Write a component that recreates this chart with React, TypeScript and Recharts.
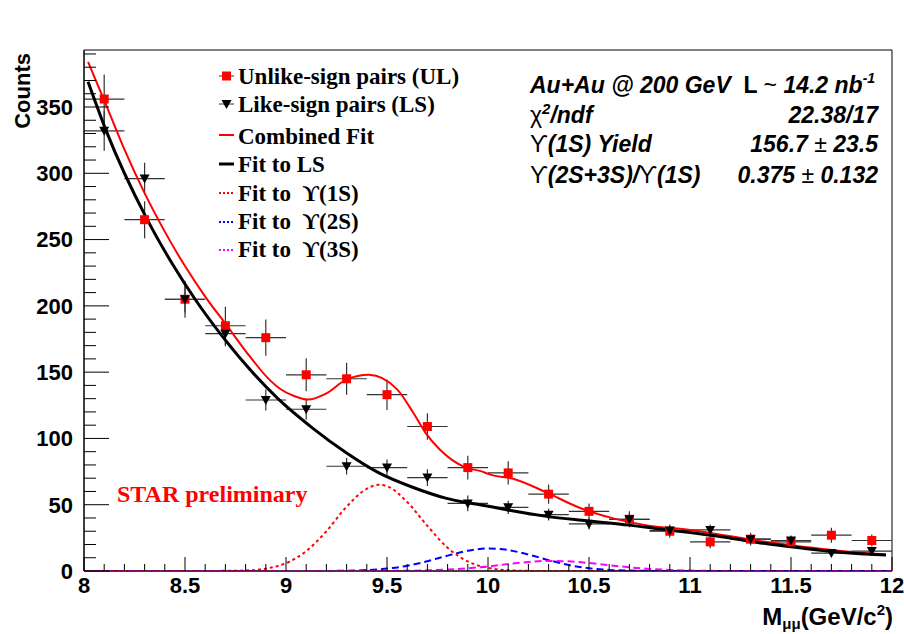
import React from "react";
import { ComposedChart, Line, Scatter, XAxis, YAxis, ErrorBar, ReferenceArea } from "recharts";

const sans = "'Liberation Sans', Arial, Helvetica, sans-serif";
const serif = "'Liberation Serif', 'Times New Roman', serif";

// dimuon invariant mass bins, 0.2 GeV/c^2 wide
const binCenters = [8.1, 8.3, 8.5, 8.7, 8.9, 9.1, 9.3, 9.5, 9.7, 9.9, 10.1, 10.3, 10.5, 10.7, 10.9, 11.1, 11.3, 11.5, 11.7, 11.9];
const binHalfWidth = 0.1;

const ulCounts = [356, 265, 205, 185, 176, 148, 145, 133, 109, 78, 74, 58, 45, 39, 30, 22, 24, 22, 27, 23];
const ulErrors = [18.5, 14, 14, 14.3, 13.7, 12.5, 12, 11.5, 10, 8.9, 8.8, 7.2, 6, 6, 5, 4.8, 4.8, 4.7, 5.6, 4.6];
const lsCounts = [332, 296, 205, 179, 129, 122, 79, 78, 70.5, 51, 48, 42.5, 35.5, 39, 30.5, 31, 24, 23, 13.5, 15];
const lsErrors = [15, 12, 10, 9.5, 8, 8, 6.3, 6.2, 6.3, 5.9, 5, 4.5, 4.2, 4.4, 3.9, 4, 3.5, 3.4, 2.8, 3];

// fitted curves, sampled along the mass axis
const combinedFitX = [8.02, 8.1, 8.2, 8.3, 8.4, 8.5, 8.6, 8.71, 8.82, 8.92, 8.97, 9.04, 9.11, 9.2, 9.3, 9.41, 9.55, 9.63, 9.69, 9.76, 9.89, 9.96, 10.02, 10.12, 10.29, 10.45, 10.62, 10.78, 11.0, 11.39, 11.79, 11.97];
const combinedFitY = [384, 355, 318, 285, 256, 230, 207, 184.6, 162, 144, 137.5, 132, 129.3, 134, 144.5, 148, 137, 119.4, 104.4, 91.8, 78, 75.5, 72.3, 69.8, 59.2, 47.9, 39.7, 34.6, 31, 21.6, 14.5, 12.5];

const lsFitX = [8.02, 8.11, 8.31, 8.44, 8.55, 8.69, 8.96, 9.13, 9.3, 9.46, 9.63, 9.79, 9.89, 9.96, 10.06, 10.12, 10.29, 10.49, 10.7, 10.88, 11.0, 11.19, 11.39, 11.59, 11.79, 11.97];
const lsFitY = [369, 332, 266, 231, 205, 176, 130, 108, 89, 74, 63, 55, 51.7, 50, 47.2, 45.4, 41.2, 37.9, 34.6, 31.1, 29, 25, 20.3, 16.6, 13.5, 12];

const fit1SX = [8.0, 8.7, 8.8, 8.9, 9.0, 9.1, 9.2, 9.3, 9.4, 9.46, 9.5, 9.6, 9.7, 9.8, 9.9, 10.0, 10.1, 10.2, 10.3, 12.0];
const fit1SY = [0, 0.1, 0.4, 1.8, 5.9, 15, 30, 48.5, 62, 65, 64, 52, 34, 17.5, 7.2, 2.4, 0.6, 0.1, 0, 0];

const fit2SX = [8.0, 9.1, 9.2, 9.3, 9.4, 9.5, 9.6, 9.7, 9.8, 9.9, 10.0, 10.1, 10.2, 10.3, 10.4, 10.5, 10.6, 10.7, 10.8, 10.9, 12.0];
const fit2SY = [0, 0, 0.06, 0.2, 0.7, 1.8, 3.9, 7.4, 11.6, 15.3, 17, 15.8, 12.4, 8.2, 4.5, 2.1, 0.8, 0.3, 0.1, 0, 0];

const fit3SX = [8.0, 9.4, 9.5, 9.6, 9.7, 9.8, 9.9, 10.0, 10.1, 10.2, 10.3, 10.4, 10.5, 10.6, 10.7, 10.8, 10.9, 11.0, 11.1, 11.2, 12.0];
const fit3SY = [0, 0, 0.06, 0.2, 0.5, 1.1, 2.1, 3.4, 5.2, 6.8, 7.6, 7.3, 6.0, 4.4, 2.8, 1.6, 0.8, 0.35, 0.12, 0.03, 0];

const xMajorTicks = [8, 8.5, 9, 9.5, 10, 10.5, 11, 11.5, 12];
const yMajorTicks = [0, 50, 100, 150, 200, 250, 300, 350];
const xTicks = Array.from({ length: 41 }, (_, i) => +(8 + i * 0.1).toFixed(1));
const yTicks = Array.from({ length: 40 }, (_, i) => i * 10);

const ulPoints = binCenters.map((x, i) => ({ x, y: ulCounts[i], ey: ulErrors[i], ex: binHalfWidth }));
const lsPoints = binCenters.map((x, i) => ({ x, y: lsCounts[i], ey: lsErrors[i], ex: binHalfWidth }));
const toXY = (xs: number[], ys: number[]) => xs.map((x, i) => ({ x, y: ys[i] }));

const isMajor = (v: number, majors: number[]) => majors.some((m) => Math.abs(m - v) < 1e-6);

const XTick = (props: any) => {
  const { x, y, payload } = props;
  const major = isMajor(payload.value, xMajorTicks);
  return (
    <g>
      <line x1={x} x2={x} y1={y} y2={y - (major ? 14 : 7)} stroke="#000" strokeWidth={1} />
      {major && (
        <text x={x} y={y + 22} textAnchor="middle" fontFamily={sans} fontWeight="bold" fontSize={22} fill="#000">
          {payload.value}
        </text>
      )}
    </g>
  );
};

const YTick = (props: any) => {
  const { x, y, payload } = props;
  const major = isMajor(payload.value, yMajorTicks);
  return (
    <g>
      <line x1={x} x2={x + (major ? 25 : 12)} y1={y} y2={y} stroke="#000" strokeWidth={1} />
      {major && (
        <text x={x - 11} y={y} dy="0.36em" textAnchor="end" fontFamily={sans} fontWeight="bold" fontSize={22} fill="#000">
          {payload.value}
        </text>
      )}
    </g>
  );
};

const Square = (p: any) => <rect x={p.cx - 4.5} y={p.cy - 4.5} width={9} height={9} fill="#ff0000" />;
const DownTriangle = (p: any) => (
  <path d={`M${p.cx - 5},${p.cy - 4} L${p.cx + 5},${p.cy - 4} L${p.cx},${p.cy + 5} Z`} fill="#000" />
);

const barColor = "#333";

function LegendBox() {
  const x0 = 219;
  const x1 = 234;
  const tx = 238;
  const txt = { fontFamily: serif, fontWeight: "bold" as const, fontSize: 23, fill: "#000", style: { whiteSpace: "pre" as const } };
  return (
    <g>
      <line x1={x0} x2={x1} y1={76} y2={76} stroke={barColor} />
      <rect x={222} y={71.5} width={9} height={9} fill="#ff0000" />
      <text x={tx} y={83.5} {...txt}>Unlike-sign pairs (UL)</text>

      <line x1={x0} x2={x1} y1={104} y2={104} stroke={barColor} />
      <path d="M221.5,100 L231.5,100 L226.5,109 Z" fill="#000" />
      <text x={tx} y={112} {...txt}>Like-sign pairs (LS)</text>

      <line x1={x0} x2={x1} y1={135} y2={135} stroke="#ff0000" strokeWidth={2} />
      <text x={tx} y={143.5} {...txt}>Combined Fit</text>

      <line x1={x0} x2={x1} y1={164} y2={164} stroke="#000" strokeWidth={3} />
      <text x={tx} y={172} {...txt}>Fit to LS</text>

      <line x1={x0} x2={x1} y1={193} y2={193} stroke="#ff0000" strokeWidth={2} strokeDasharray="2 2" />
      <text x={tx} y={200.5} {...txt}>Fit to  ϒ(1S)</text>

      <line x1={x0} x2={x1} y1={222} y2={222} stroke="#0000ff" strokeWidth={2} strokeDasharray="2 2" />
      <text x={tx} y={229} {...txt}>Fit to  ϒ(2S)</text>

      <line x1={x0} x2={x1} y1={250} y2={250} stroke="#ff00ff" strokeWidth={2} strokeDasharray="2 2" />
      <text x={tx} y={257} {...txt}>Fit to  ϒ(3S)</text>
    </g>
  );
}

function FitSummary() {
  const base = { fontFamily: sans, fontWeight: "bold" as const, fontSize: 23, fill: "#000", style: { whiteSpace: "pre" as const } };
  const left = 530;
  const right = 878;
  return (
    <g>
      <text x={left} y={93} {...base}>
        <tspan fontStyle="italic">Au+Au @ 200 GeV  </tspan>
        <tspan>L </tspan>
        <tspan fontWeight="normal">~</tspan>
        <tspan fontStyle="italic"> 14.2 nb</tspan>
        <tspan fontStyle="italic" fontSize={14} dy={-10}>-1</tspan>
      </text>
      <text x={left} y={123} {...base}>
        <tspan fontWeight="normal">χ</tspan>
        <tspan fontStyle="italic" fontSize={15} dy={-9}>2</tspan>
        <tspan fontStyle="italic" dy={9}>/ndf</tspan>
      </text>
      <text x={right} y={123} textAnchor="end" {...base} fontStyle="italic">22.38/17</text>
      <text x={left} y={152} {...base}>
        <tspan fontWeight="normal">ϒ</tspan>
        <tspan fontStyle="italic">(1S) Yield</tspan>
      </text>
      <text x={right} y={152} textAnchor="end" {...base}>
        <tspan fontStyle="italic">156.7 </tspan>
        <tspan fontWeight="normal">±</tspan>
        <tspan fontStyle="italic"> 23.5</tspan>
      </text>
      <text x={left} y={183} {...base}>
        <tspan fontWeight="normal">ϒ</tspan>
        <tspan fontStyle="italic">(2S+3S)/</tspan>
        <tspan fontWeight="normal">ϒ</tspan>
        <tspan fontStyle="italic">(1S)</tspan>
      </text>
      <text x={right} y={183} textAnchor="end" {...base}>
        <tspan fontStyle="italic">0.375 </tspan>
        <tspan fontWeight="normal">±</tspan>
        <tspan fontStyle="italic"> 0.132</tspan>
      </text>
    </g>
  );
}

export default function App() {
  return (
    <div style={{ position: "absolute", left: 0, top: 0, width: 904, height: 634, background: "#fff" }}>
      <ComposedChart width={904} height={634} margin={{ top: 50, right: 12, bottom: 0, left: 0 }}>
        <XAxis
          dataKey="x"
          type="number"
          domain={[8, 12]}
          ticks={xTicks}
          interval={0}
          height={63}
          tickSize={0}
          tickMargin={0}
          tick={<XTick />}
          axisLine={{ stroke: "#000" }}
          allowDataOverflow
        />
        <YAxis
          dataKey="y"
          type="number"
          domain={[0, 393]}
          ticks={yTicks}
          interval={0}
          width={84}
          tickSize={0}
          tickMargin={0}
          tick={<YTick />}
          axisLine={{ stroke: "#000" }}
          allowDataOverflow
        />
        <ReferenceArea x1={8} x2={12} y1={0} y2={393} fill="none" stroke="#000" strokeWidth={1} ifOverflow="visible" />

        <Scatter data={ulPoints} shape={Square} isAnimationActive={false}>
          <ErrorBar dataKey="ey" direction="y" width={0} stroke={barColor} strokeWidth={1.2} />
          <ErrorBar dataKey="ex" direction="x" width={0} stroke={barColor} strokeWidth={1.2} />
        </Scatter>
        <Scatter data={lsPoints} shape={DownTriangle} isAnimationActive={false}>
          <ErrorBar dataKey="ey" direction="y" width={0} stroke={barColor} strokeWidth={1.2} />
          <ErrorBar dataKey="ex" direction="x" width={0} stroke={barColor} strokeWidth={1.2} />
        </Scatter>

        <Line data={toXY(combinedFitX, combinedFitY)} dataKey="y" type="monotone" stroke="#ff0000" strokeWidth={2} dot={false} isAnimationActive={false} />
        <Line data={toXY(lsFitX, lsFitY)} dataKey="y" type="monotone" stroke="#000" strokeWidth={3} dot={false} isAnimationActive={false} />
        <Line data={toXY(fit1SX, fit1SY)} dataKey="y" type="monotone" stroke="#ff0000" strokeWidth={2} strokeDasharray="3 3" dot={false} isAnimationActive={false} />
        <Line data={toXY(fit2SX, fit2SY)} dataKey="y" type="monotone" stroke="#0000ff" strokeWidth={2} strokeDasharray="7 4" dot={false} isAnimationActive={false} />
        <Line data={toXY(fit3SX, fit3SY)} dataKey="y" type="monotone" stroke="#ff00ff" strokeWidth={2} strokeDasharray="7 4" dot={false} isAnimationActive={false} />
      </ComposedChart>

      <svg width={904} height={634} style={{ position: "absolute", left: 0, top: 0, pointerEvents: "none" }}>
        <LegendBox />
        <FitSummary />
        <text x={117} y={502} fontFamily={serif} fontWeight="bold" fontSize={24} fill="#ff0000">STAR preliminary</text>
        <text x={30} y={53} transform="rotate(-90 30 53)" textAnchor="end" fontFamily={sans} fontWeight="bold" fontSize={22} fill="#000">
          Counts
        </text>
        <text x={893} y={625} textAnchor="end" fontFamily={sans} fontWeight="bold" fontSize={24} fill="#000">
          <tspan>M</tspan>
          <tspan fontSize={15} dy={4}>μμ</tspan>
          <tspan dy={-4}>(GeV/c</tspan>
          <tspan fontSize={15} dy={-10}>2</tspan>
          <tspan dy={10}>)</tspan>
        </text>
      </svg>
    </div>
  );
}
